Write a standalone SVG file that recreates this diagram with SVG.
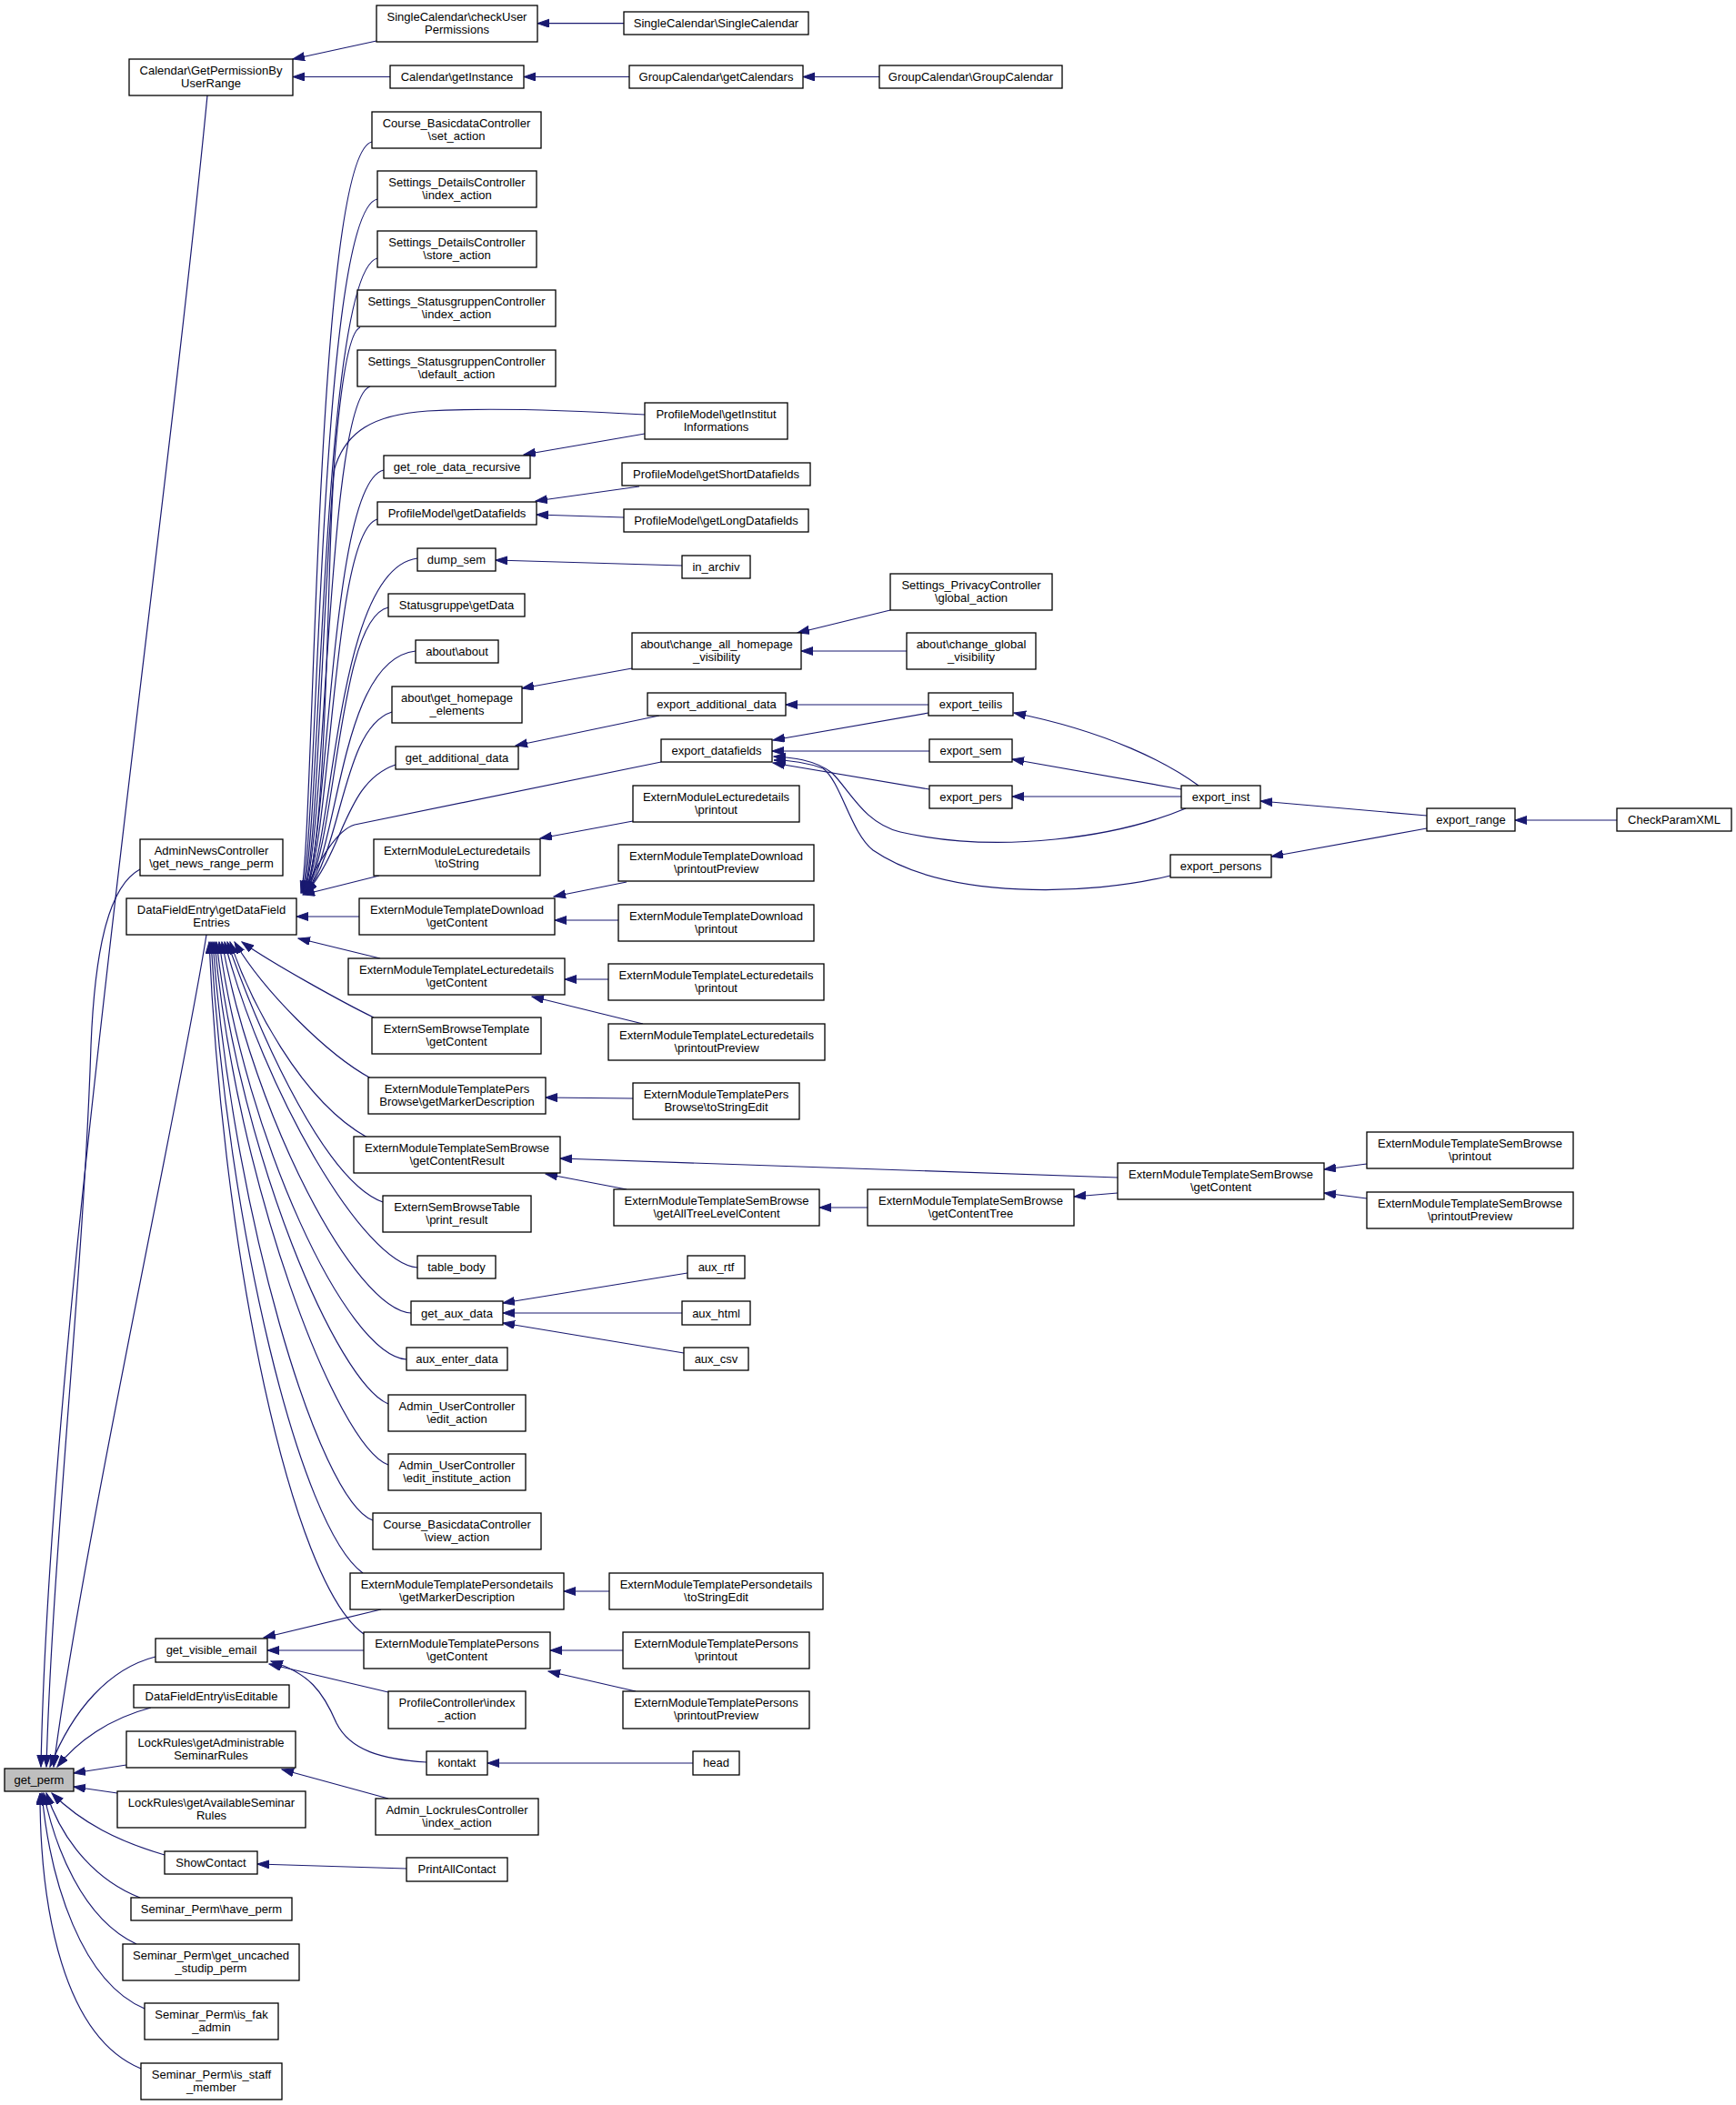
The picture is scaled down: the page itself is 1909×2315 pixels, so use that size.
<svg xmlns="http://www.w3.org/2000/svg" width="1909" height="2315" viewBox="0 0 1909 2315">
<style>
.node rect{fill:#fff;stroke:#000;stroke-width:1.3}
.node rect.hl{fill:#bfbfbf}
.node text{font-family:"Liberation Sans",Arial,Helvetica,sans-serif;font-size:13px;text-anchor:middle;fill:#000}
#edges path{fill:none;stroke:#191970;stroke-width:1.2;marker-end:url(#arr)}
</style>
<defs>
<marker id="arr" markerUnits="userSpaceOnUse" markerWidth="14" markerHeight="10" refX="13" refY="4.5" orient="auto">
<path d="M0,0 L13,4.5 L0,9 z" fill="#191970" stroke="#191970" stroke-width="1"/>
</marker>
</defs>
<rect x="0" y="0" width="1909" height="2315" fill="#fff"/>
<g id="edges">
<path d="M228,105 C175,650 55,1450 45,1943"/>
<path d="M154,956 C118,975 104,1050 100,1150 C92,1400 58,1700 51,1943"/>
<path d="M227,1028 C200,1200 90,1700 59,1943"/>
<path d="M171,1822 C120,1835 80,1880 55,1943"/>
<path d="M166,1878 C120,1890 85,1915 63,1943"/>
<path d="M139,1941 L81,1950"/>
<path d="M129,1972 L81,1965"/>
<path d="M181,2040 C130,2025 90,2005 57,1972"/>
<path d="M154,2087 C110,2070 70,2030 51,1972"/>
<path d="M150,2138 C90,2110 60,2030 48,1972"/>
<path d="M159,2209 C90,2180 55,2070 46,1972"/>
<path d="M155,2275 C70,2240 44,2100 44,1972"/>
<path d="M414,45 L322,65"/>
<path d="M429,84.5 L322,84.5"/>
<path d="M686,25.7 L591,25.7"/>
<path d="M692,84.5 L576,84.5"/>
<path d="M967,84.5 L883,84.5"/>
<path d="M409,156 C346,170 346,930 331,982"/>
<path d="M415,219 C350,232 350,930 332,982"/>
<path d="M415,284 C353,298 353,930 333,982"/>
<path d="M396,360 C356,375 356,930 334,982"/>
<path d="M407,425 C359,440 359,930 334,982"/>
<path d="M709,456 C640,452 540,448 470,452 C410,456 380,475 368,515 C360,560 362,930 335,982"/>
<path d="M422,517 C362,530 362,930 335,982"/>
<path d="M415,571 C365,585 365,930 335,982"/>
<path d="M459,614 C368,625 368,930 336,982"/>
<path d="M427,668 C371,680 371,930 336,982"/>
<path d="M457,716 C374,725 374,930 337,982"/>
<path d="M431,783 C377,800 377,930 337,982"/>
<path d="M435,841 C380,860 380,930 337,982"/>
<path d="M727,838 L390,907 C370,913 352,945 334,982"/>
<path d="M417,963 L333,984"/>
<path d="M395,1008 L326,1008"/>
<path d="M418,1054 L328,1032"/>
<path d="M411,1119 C380,1104 300,1060 266,1036"/>
<path d="M408,1186 C360,1160 290,1090 258,1036"/>
<path d="M404,1251 C330,1210 275,1100 253,1036"/>
<path d="M421,1322 C360,1300 290,1150 250,1036"/>
<path d="M459,1394 C400,1390 290,1200 247,1036"/>
<path d="M452,1444 C390,1440 280,1230 244,1036"/>
<path d="M447,1495 C380,1490 270,1250 241,1036"/>
<path d="M427,1544 C370,1520 265,1270 238,1036"/>
<path d="M427,1611 C370,1590 260,1300 236,1036"/>
<path d="M410,1672 C350,1650 255,1330 234,1036"/>
<path d="M399,1730 C330,1680 250,1350 232,1036"/>
<path d="M400,1797 C320,1740 245,1380 230,1036"/>
<path d="M709,477 L576,500"/>
<path d="M703,535 L589,551"/>
<path d="M686,569 L590,566"/>
<path d="M750,622 L545,616"/>
<path d="M979,671 L877,696"/>
<path d="M997,716 L881,716"/>
<path d="M695,735 L574,757"/>
<path d="M725,787 L567,820"/>
<path d="M1021,775 L864,775"/>
<path d="M1021,784 L850,814"/>
<path d="M1022,826 L849,826"/>
<path d="M1022,868 L850,839"/>
<path d="M1304,889 C1230,920 1100,940 990,915 C950,905 935,870 915,850 C895,835 870,833 851,832"/>
<path d="M1287,963 C1200,985 1040,990 960,935 C935,915 925,860 905,845 C885,838 870,836 851,836"/>
<path d="M1318,864 C1285,840 1220,805 1115,784"/>
<path d="M1299,868 L1113,835"/>
<path d="M1299,876 L1113,876"/>
<path d="M1569,897 L1386,881"/>
<path d="M1569,911 L1398,942"/>
<path d="M1778,902 L1666,902"/>
<path d="M696,903 L594,922"/>
<path d="M689,970 L609,986"/>
<path d="M680,1012 L610,1012"/>
<path d="M669,1077 L621,1077"/>
<path d="M707,1126 L585,1096"/>
<path d="M696,1208 L600,1207"/>
<path d="M1229,1295 L616,1274"/>
<path d="M689,1308 L600,1291"/>
<path d="M954,1328 L901,1328"/>
<path d="M1229,1312 L1181,1316"/>
<path d="M1503,1280 L1456,1286"/>
<path d="M1503,1318 L1456,1312"/>
<path d="M756,1400 L553,1433"/>
<path d="M750,1444 L553,1444"/>
<path d="M752,1488 L553,1455"/>
<path d="M670,1750 L620,1750"/>
<path d="M685,1815 L605,1815"/>
<path d="M699,1860 L603,1838"/>
<path d="M419,1770 L290,1801"/>
<path d="M400,1815 L294,1815"/>
<path d="M427,1861 L296,1830"/>
<path d="M469,1938 C420,1935 385,1925 370,1895 C355,1860 340,1840 298,1827"/>
<path d="M762,1939 L536,1939"/>
<path d="M427,1978 L310,1946"/>
<path d="M447,2055 L283,2050"/>
</g>
<g id="n_get_perm" class="node"><rect class="hl" x="5" y="1945" width="76" height="25"/><text x="43" y="1962">get_perm</text></g>
<g id="n_calperm" class="node"><rect x="142" y="65" width="180" height="40"/><text x="232" y="82">Calendar\GetPermissionBy</text><text x="232" y="95.5">UserRange</text></g>
<g id="n_checkuser" class="node"><rect x="414" y="6" width="177" height="40"/><text x="502.5" y="23">SingleCalendar\checkUser</text><text x="502.5" y="36.5">Permissions</text></g>
<g id="n_singlecal" class="node"><rect x="686" y="13" width="203" height="25"/><text x="787.5" y="30">SingleCalendar\SingleCalendar</text></g>
<g id="n_getinst" class="node"><rect x="429" y="72" width="147" height="25"/><text x="502.5" y="89">Calendar\getInstance</text></g>
<g id="n_getcals" class="node"><rect x="692" y="72" width="191" height="25"/><text x="787.5" y="89">GroupCalendar\getCalendars</text></g>
<g id="n_groupcal" class="node"><rect x="967" y="72" width="201" height="25"/><text x="1067.5" y="89">GroupCalendar\GroupCalendar</text></g>
<g id="n_cb_set" class="node"><rect x="409" y="123" width="186" height="40"/><text x="502" y="140">Course_BasicdataController</text><text x="502" y="153.5">\set_action</text></g>
<g id="n_sd_index" class="node"><rect x="415" y="188" width="175" height="40"/><text x="502.5" y="205">Settings_DetailsController</text><text x="502.5" y="218.5">\index_action</text></g>
<g id="n_sd_store" class="node"><rect x="415" y="254" width="175" height="40"/><text x="502.5" y="271">Settings_DetailsController</text><text x="502.5" y="284.5">\store_action</text></g>
<g id="n_ss_index" class="node"><rect x="393" y="319" width="218" height="40"/><text x="502" y="336">Settings_StatusgruppenController</text><text x="502" y="349.5">\index_action</text></g>
<g id="n_ss_default" class="node"><rect x="393" y="385" width="218" height="40"/><text x="502" y="402">Settings_StatusgruppenController</text><text x="502" y="415.5">\default_action</text></g>
<g id="n_pm_inst" class="node"><rect x="709" y="443" width="157" height="40"/><text x="787.5" y="460">ProfileModel\getInstitut</text><text x="787.5" y="473.5">Informations</text></g>
<g id="n_role" class="node"><rect x="422" y="501" width="161" height="25"/><text x="502.5" y="518">get_role_data_recursive</text></g>
<g id="n_pm_short" class="node"><rect x="684" y="509" width="207" height="25"/><text x="787.5" y="526">ProfileModel\getShortDatafields</text></g>
<g id="n_pm_df" class="node"><rect x="415" y="552" width="175" height="25"/><text x="502.5" y="569">ProfileModel\getDatafields</text></g>
<g id="n_pm_long" class="node"><rect x="686" y="560" width="203" height="25"/><text x="787.5" y="577">ProfileModel\getLongDatafields</text></g>
<g id="n_dump" class="node"><rect x="459" y="603" width="86" height="25"/><text x="502" y="620">dump_sem</text></g>
<g id="n_archiv" class="node"><rect x="750" y="611" width="75" height="25"/><text x="787.5" y="628">in_archiv</text></g>
<g id="n_sg_getdata" class="node"><rect x="427" y="653" width="150" height="25"/><text x="502" y="670">Statusgruppe\getData</text></g>
<g id="n_privacy" class="node"><rect x="979" y="631" width="178" height="40"/><text x="1068" y="648">Settings_PrivacyController</text><text x="1068" y="661.5">\global_action</text></g>
<g id="n_about" class="node"><rect x="457" y="704" width="91" height="25"/><text x="502.5" y="721">about\about</text></g>
<g id="n_change_all" class="node"><rect x="695" y="696" width="186" height="40"/><text x="788" y="713">about\change_all_homepage</text><text x="788" y="726.5">_visibility</text></g>
<g id="n_change_global" class="node"><rect x="997" y="696" width="142" height="40"/><text x="1068" y="713">about\change_global</text><text x="1068" y="726.5">_visibility</text></g>
<g id="n_homepage" class="node"><rect x="431" y="755" width="143" height="40"/><text x="502.5" y="772">about\get_homepage</text><text x="502.5" y="785.5">_elements</text></g>
<g id="n_add_data" class="node"><rect x="435" y="821" width="135" height="25"/><text x="502.5" y="838">get_additional_data</text></g>
<g id="n_exp_add" class="node"><rect x="712" y="762" width="152" height="25"/><text x="788" y="779">export_additional_data</text></g>
<g id="n_teilis" class="node"><rect x="1021" y="762" width="93" height="25"/><text x="1067.5" y="779">export_teilis</text></g>
<g id="n_exp_df" class="node"><rect x="727" y="813" width="122" height="25"/><text x="788" y="830">export_datafields</text></g>
<g id="n_exp_sem" class="node"><rect x="1022" y="813" width="91" height="25"/><text x="1067.5" y="830">export_sem</text></g>
<g id="n_exp_pers" class="node"><rect x="1022" y="864" width="91" height="25"/><text x="1067.5" y="881">export_pers</text></g>
<g id="n_exp_inst" class="node"><rect x="1299" y="864" width="87" height="25"/><text x="1342.5" y="881">export_inst</text></g>
<g id="n_exp_range" class="node"><rect x="1569" y="889" width="97" height="25"/><text x="1617.5" y="906">export_range</text></g>
<g id="n_checkparam" class="node"><rect x="1778" y="889" width="126" height="25"/><text x="1841" y="906">CheckParamXML</text></g>
<g id="n_exp_persons" class="node"><rect x="1287" y="940" width="111" height="25"/><text x="1342.5" y="957">export_persons</text></g>
<g id="n_adminnews" class="node"><rect x="154" y="923" width="157" height="40"/><text x="232.5" y="940">AdminNewsController</text><text x="232.5" y="953.5">\get_news_range_perm</text></g>
<g id="n_eml_tostring" class="node"><rect x="411" y="923" width="183" height="40"/><text x="502.5" y="940">ExternModuleLecturedetails</text><text x="502.5" y="953.5">\toString</text></g>
<g id="n_eml_printout" class="node"><rect x="696" y="864" width="183" height="40"/><text x="787.5" y="881">ExternModuleLecturedetails</text><text x="787.5" y="894.5">\printout</text></g>
<g id="n_dfe" class="node"><rect x="139" y="988" width="187" height="40"/><text x="232.5" y="1005">DataFieldEntry\getDataField</text><text x="232.5" y="1018.5">Entries</text></g>
<g id="n_emtd_get" class="node"><rect x="395" y="988" width="215" height="40"/><text x="502.5" y="1005">ExternModuleTemplateDownload</text><text x="502.5" y="1018.5">\getContent</text></g>
<g id="n_emtd_prev" class="node"><rect x="680" y="929" width="215" height="40"/><text x="787.5" y="946">ExternModuleTemplateDownload</text><text x="787.5" y="959.5">\printoutPreview</text></g>
<g id="n_emtd_print" class="node"><rect x="680" y="995" width="215" height="40"/><text x="787.5" y="1012">ExternModuleTemplateDownload</text><text x="787.5" y="1025.5">\printout</text></g>
<g id="n_emtl_get" class="node"><rect x="383" y="1054" width="238" height="40"/><text x="502" y="1071">ExternModuleTemplateLecturedetails</text><text x="502" y="1084.5">\getContent</text></g>
<g id="n_emtl_print" class="node"><rect x="669" y="1060" width="237" height="40"/><text x="787.5" y="1077">ExternModuleTemplateLecturedetails</text><text x="787.5" y="1090.5">\printout</text></g>
<g id="n_emtl_prev" class="node"><rect x="669" y="1126" width="238" height="40"/><text x="788" y="1143">ExternModuleTemplateLecturedetails</text><text x="788" y="1156.5">\printoutPreview</text></g>
<g id="n_esbt_get" class="node"><rect x="409" y="1119" width="186" height="40"/><text x="502" y="1136">ExternSemBrowseTemplate</text><text x="502" y="1149.5">\getContent</text></g>
<g id="n_pb_marker" class="node"><rect x="405" y="1185" width="195" height="40"/><text x="502.5" y="1202">ExternModuleTemplatePers</text><text x="502.5" y="1215.5">Browse\getMarkerDescription</text></g>
<g id="n_pb_tostr" class="node"><rect x="696" y="1191" width="183" height="40"/><text x="787.5" y="1208">ExternModuleTemplatePers</text><text x="787.5" y="1221.5">Browse\toStringEdit</text></g>
<g id="n_sb_result" class="node"><rect x="389" y="1250" width="227" height="40"/><text x="502.5" y="1267">ExternModuleTemplateSemBrowse</text><text x="502.5" y="1280.5">\getContentResult</text></g>
<g id="n_sb_alltree" class="node"><rect x="675" y="1308" width="226" height="40"/><text x="788" y="1325">ExternModuleTemplateSemBrowse</text><text x="788" y="1338.5">\getAllTreeLevelContent</text></g>
<g id="n_sb_tree" class="node"><rect x="954" y="1308" width="227" height="40"/><text x="1067.5" y="1325">ExternModuleTemplateSemBrowse</text><text x="1067.5" y="1338.5">\getContentTree</text></g>
<g id="n_sb_get" class="node"><rect x="1229" y="1279" width="227" height="40"/><text x="1342.5" y="1296">ExternModuleTemplateSemBrowse</text><text x="1342.5" y="1309.5">\getContent</text></g>
<g id="n_sb_print" class="node"><rect x="1503" y="1245" width="227" height="40"/><text x="1616.5" y="1262">ExternModuleTemplateSemBrowse</text><text x="1616.5" y="1275.5">\printout</text></g>
<g id="n_sb_prev" class="node"><rect x="1503" y="1311" width="227" height="40"/><text x="1616.5" y="1328">ExternModuleTemplateSemBrowse</text><text x="1616.5" y="1341.5">\printoutPreview</text></g>
<g id="n_esbtable" class="node"><rect x="421" y="1315" width="163" height="40"/><text x="502.5" y="1332">ExternSemBrowseTable</text><text x="502.5" y="1345.5">\print_result</text></g>
<g id="n_table_body" class="node"><rect x="459" y="1381" width="86" height="25"/><text x="502" y="1398">table_body</text></g>
<g id="n_aux_rtf" class="node"><rect x="756" y="1381" width="63" height="25"/><text x="787.5" y="1398">aux_rtf</text></g>
<g id="n_get_aux" class="node"><rect x="452" y="1431" width="101" height="26"/><text x="502.5" y="1448.5">get_aux_data</text></g>
<g id="n_aux_html" class="node"><rect x="750" y="1431" width="75" height="26"/><text x="787.5" y="1448.5">aux_html</text></g>
<g id="n_aux_enter" class="node"><rect x="447" y="1482" width="111" height="25"/><text x="502.5" y="1499">aux_enter_data</text></g>
<g id="n_aux_csv" class="node"><rect x="752" y="1482" width="71" height="25"/><text x="787.5" y="1499">aux_csv</text></g>
<g id="n_au_edit" class="node"><rect x="427" y="1534" width="151" height="40"/><text x="502.5" y="1551">Admin_UserController</text><text x="502.5" y="1564.5">\edit_action</text></g>
<g id="n_au_inst" class="node"><rect x="427" y="1599" width="151" height="40"/><text x="502.5" y="1616">Admin_UserController</text><text x="502.5" y="1629.5">\edit_institute_action</text></g>
<g id="n_cb_view" class="node"><rect x="410" y="1664" width="185" height="40"/><text x="502.5" y="1681">Course_BasicdataController</text><text x="502.5" y="1694.5">\view_action</text></g>
<g id="n_pd_marker" class="node"><rect x="385" y="1730" width="235" height="40"/><text x="502.5" y="1747">ExternModuleTemplatePersondetails</text><text x="502.5" y="1760.5">\getMarkerDescription</text></g>
<g id="n_pd_tostr" class="node"><rect x="670" y="1730" width="235" height="40"/><text x="787.5" y="1747">ExternModuleTemplatePersondetails</text><text x="787.5" y="1760.5">\toStringEdit</text></g>
<g id="n_p_get" class="node"><rect x="400" y="1795" width="205" height="40"/><text x="502.5" y="1812">ExternModuleTemplatePersons</text><text x="502.5" y="1825.5">\getContent</text></g>
<g id="n_p_print" class="node"><rect x="685" y="1795" width="205" height="40"/><text x="787.5" y="1812">ExternModuleTemplatePersons</text><text x="787.5" y="1825.5">\printout</text></g>
<g id="n_visible" class="node"><rect x="171" y="1802" width="123" height="26"/><text x="232.5" y="1819">get_visible_email</text></g>
<g id="n_isedit" class="node"><rect x="147" y="1853" width="171" height="25"/><text x="232.5" y="1870">DataFieldEntry\isEditable</text></g>
<g id="n_profctrl" class="node"><rect x="427" y="1860" width="151" height="41"/><text x="502.5" y="1877">ProfileController\index</text><text x="502.5" y="1890.5">_action</text></g>
<g id="n_p_prev" class="node"><rect x="685" y="1860" width="205" height="41"/><text x="787.5" y="1877">ExternModuleTemplatePersons</text><text x="787.5" y="1890.5">\printoutPreview</text></g>
<g id="n_lr_admin" class="node"><rect x="139" y="1904" width="186" height="40"/><text x="232" y="1921">LockRules\getAdministrable</text><text x="232" y="1934.5">SeminarRules</text></g>
<g id="n_kontakt" class="node"><rect x="469" y="1926" width="67" height="26"/><text x="502.5" y="1943">kontakt</text></g>
<g id="n_head" class="node"><rect x="762" y="1926" width="51" height="26"/><text x="787.5" y="1943">head</text></g>
<g id="n_lr_avail" class="node"><rect x="129" y="1970" width="207" height="40"/><text x="232.5" y="1987">LockRules\getAvailableSeminar</text><text x="232.5" y="2000.5">Rules</text></g>
<g id="n_alr_index" class="node"><rect x="413" y="1978" width="179" height="40"/><text x="502.5" y="1995">Admin_LockrulesController</text><text x="502.5" y="2008.5">\index_action</text></g>
<g id="n_showcontact" class="node"><rect x="181" y="2036" width="102" height="25"/><text x="232" y="2053">ShowContact</text></g>
<g id="n_printall" class="node"><rect x="447" y="2043" width="111" height="26"/><text x="502.5" y="2060">PrintAllContact</text></g>
<g id="n_sp_have" class="node"><rect x="144" y="2087" width="177" height="25"/><text x="232.5" y="2104">Seminar_Perm\have_perm</text></g>
<g id="n_sp_uncached" class="node"><rect x="135" y="2138" width="194" height="40"/><text x="232" y="2155">Seminar_Perm\get_uncached</text><text x="232" y="2168.5">_studip_perm</text></g>
<g id="n_sp_fak" class="node"><rect x="159" y="2203" width="147" height="40"/><text x="232.5" y="2220">Seminar_Perm\is_fak</text><text x="232.5" y="2233.5">_admin</text></g>
<g id="n_sp_staff" class="node"><rect x="155" y="2269" width="155" height="40"/><text x="232.5" y="2286">Seminar_Perm\is_staff</text><text x="232.5" y="2299.5">_member</text></g>
</svg>
